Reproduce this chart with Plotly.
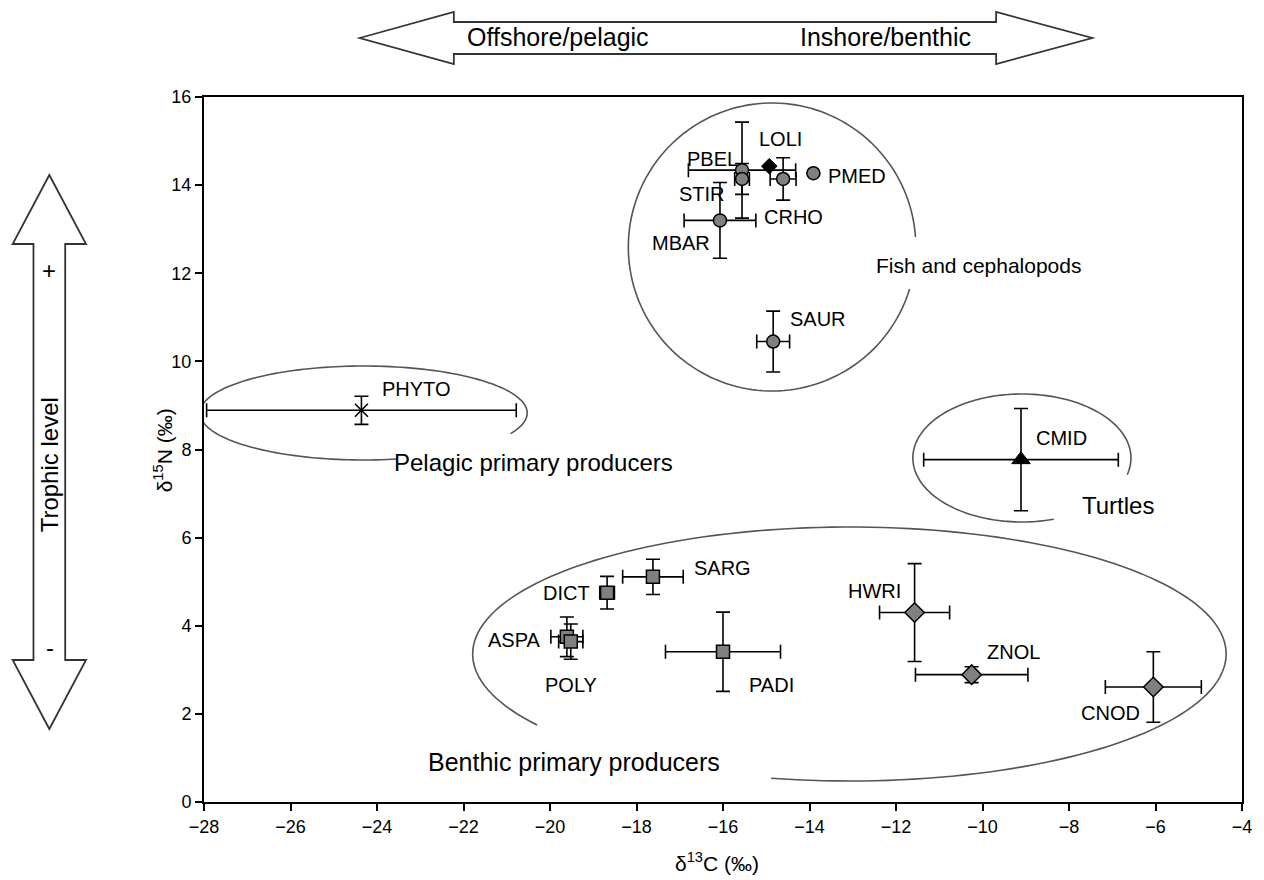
import numpy as np
import plotly.graph_objects as go

# ---------------- data (mean +/- SD, per mil) ----------------
fish_names = ["PBEL", "STIR", "CRHO", "PMED", "MBAR", "SAUR"]
fish_c13 = [-15.56, -15.56, -14.61, -13.91, -16.07, -14.84]
fish_n15 = [14.34, 14.14, 14.14, 14.27, 13.20, 10.45]
fish_c13_sd = [1.24, 0.17, 0.30, 0.0, 0.83, 0.38]
fish_n15_sd = [1.09, 0.35, 0.48, 0.0, 0.86, 0.69]

ceph_names = ["LOLI"]
ceph_c13 = [-14.93]
ceph_n15 = [14.43]

phyto_names = ["PHYTO"]
phyto_c13 = [-24.36]
phyto_n15 = [8.89]
phyto_c13_sd = [3.58]
phyto_n15_sd = [0.32]

algae_names = ["SARG", "DICT", "ASPA", "POLY", "PADI"]
algae_c13 = [-17.62, -18.68, -19.61, -19.52, -16.00]
algae_n15 = [5.11, 4.75, 3.75, 3.64, 3.41]
algae_c13_sd = [0.70, 0.17, 0.37, 0.28, 1.33]
algae_n15_sd = [0.40, 0.37, 0.45, 0.40, 0.90]

grass_names = ["HWRI", "ZNOL", "CNOD"]
grass_c13 = [-11.57, -10.25, -6.05]
grass_n15 = [4.30, 2.89, 2.61]
grass_c13_sd = [0.81, 1.30, 1.11]
grass_n15_sd = [1.11, 0.18, 0.80]

turtle_names = ["CMID"]
turtle_c13 = [-9.11]
turtle_n15 = [7.77]
turtle_c13_sd = [2.25]
turtle_n15_sd = [1.16]

x_ticks = list(range(-28, -3, 2))
y_ticks = list(range(0, 17, 2))

# ---------------- layout geometry (page pixels) ----------------
PAGE_OFF = 8            # default body margin of the html page
W, H = 1264 - PAGE_OFF, 880 - PAGE_OFF
L, R, T, B = 204, 1251, 97, 802      # plot area in page pixels
XMIN, XMAX, YMIN, YMAX = -28, -4, 0, 16

def px2data(xp, yp):
    return (XMIN + (xp - L) / (R - L) * (XMAX - XMIN),
            YMIN + (B - yp) / (B - T) * (YMAX - YMIN))

def px2paper(xp, yp):
    return ((xp - L) / (R - L), (B - yp) / (B - T))

FONT = "Liberation Sans, Arial, sans-serif"
GREY = "#808080"

fig = go.Figure()

def add_group(xs, ys, xsd, ysd, names, symbol, color, size, lw=1.5):
    eb = dict(type="data", symmetric=True, color="black", thickness=1.6, width=7, visible=xsd is not None)
    fig.add_trace(go.Scatter(
        x=xs, y=ys, mode="markers", text=names, hoverinfo="text+x+y",
        marker=dict(symbol=symbol, size=size, color=color,
                    line=dict(color="black", width=lw)),
        error_x=dict(eb, array=xsd if xsd is not None else [0] * len(xs)),
        error_y=dict(eb, array=ysd if ysd is not None else [0] * len(xs)),
        showlegend=False,
    ))

add_group(algae_c13, algae_n15, algae_c13_sd, algae_n15_sd, algae_names, "square", GREY, 13)
add_group(grass_c13, grass_n15, grass_c13_sd, grass_n15_sd, grass_names, "diamond", GREY, 15)
add_group(phyto_c13, phyto_n15, phyto_c13_sd, phyto_n15_sd, phyto_names, "x-thin", "black", 13, 1.6)
add_group(turtle_c13, turtle_n15, turtle_c13_sd, turtle_n15_sd, turtle_names, "triangle-up", "black", 16, 1)
add_group(fish_c13, fish_n15, fish_c13_sd, fish_n15_sd, fish_names, "circle", GREY, 13)
add_group(ceph_c13, ceph_n15, None, None, ceph_names, "diamond", "black", 12, 1)

# ---------------- point labels (pixel offsets) ----------------
label_offsets = {
    "PHYTO": (55, 21), "LOLI": (11, 27), "PBEL": (-30, 11), "STIR": (-40, -15),
    "CRHO": (10, -38), "PMED": (44, -3), "MBAR": (-39, -23), "SAUR": (45, 23),
    "SARG": (70, 9), "DICT": (-41, 0), "ASPA": (-52, -3), "POLY": (0, -43),
    "PADI": (48, -33), "HWRI": (-40, 22), "ZNOL": (42, 23), "CNOD": (-43, -26),
    "CMID": (41, 22),
}
annotations = []
for names, xs, ys in [(fish_names, fish_c13, fish_n15), (ceph_names, ceph_c13, ceph_n15),
                      (phyto_names, phyto_c13, phyto_n15), (algae_names, algae_c13, algae_n15),
                      (grass_names, grass_c13, grass_n15), (turtle_names, turtle_c13, turtle_n15)]:
    for n, xv, yv in zip(names, xs, ys):
        dx, dy = label_offsets[n]
        annotations.append(dict(x=xv, y=yv, xref="x", yref="y", text=n, showarrow=False,
                                xshift=dx, yshift=dy, xanchor="center", yanchor="middle",
                                font=dict(family=FONT, size=20, color="black")))

# group labels
for text, xp, yp, sz in [("Fish and cephalopods", 985, 265, 21),
                         ("Pelagic primary producers", 536, 462, 24),
                         ("Turtles", 1126, 505, 24),
                         ("Benthic primary producers", 577, 762, 25)]:
    gx, gy = px2data(xp, yp)
    annotations.append(dict(x=gx, y=gy, xref="x", yref="y", text=text, showarrow=False,
                            xanchor="center", yanchor="middle",
                            font=dict(family=FONT, size=sz, color="black")))

# axis titles
tx, ty = px2paper(721, 862)
annotations.append(dict(x=tx, y=ty, xref="paper", yref="paper", text="δ<sup>13</sup>C (‰)",
                        showarrow=False, xanchor="center", yanchor="middle",
                        font=dict(family=FONT, size=21, color="black")))
tx, ty = px2paper(163, 450)
annotations.append(dict(x=tx, y=ty, xref="paper", yref="paper", text="δ<sup>15</sup>N (‰)",
                        showarrow=False, textangle=-90, xanchor="center", yanchor="middle",
                        font=dict(family=FONT, size=21, color="black")))

# arrow texts
for text, xp, yp, anchor, ang, sz in [("Offshore/pelagic", 467, 37, "left", 0, 25),
                                      ("Inshore/benthic", 980, 37, "right", 0, 25),
                                      ("Trophic level", 48, 465, "center", -90, 24),
                                      ("+", 48, 270, "center", 0, 24),
                                      ("-", 49, 647, "center", 0, 24)]:
    ax_, ay_ = px2paper(xp, yp)
    annotations.append(dict(x=ax_, y=ay_, xref="paper", yref="paper", text=text, showarrow=False,
                            xanchor=anchor, yanchor="middle", textangle=ang,
                            font=dict(family=FONT, size=sz, color="black")))

# ---------------- group ellipses (open arcs) ----------------
def arc_path(cxp, cyp, rxp, ryp, a0, a1, n=160):
    t = np.radians(np.linspace(a0, a1, n))
    pts = [px2data(cxp + rxp * np.cos(a), cyp - ryp * np.sin(a)) for a in t]
    return "M " + " L ".join(f"{p[0]:.4f},{p[1]:.4f}" for p in pts)

shapes = []
for cxp, cyp, rxp, ryp, a0, a1 in [(777, 247, 145, 144, 4, 343),
                                   (365, 413, 165, 47, -26, 282),
                                   (1029, 458, 110, 64, -15, 287),
                                   (855, 654, 380, 127, -102, 214)]:
    shapes.append(dict(type="path", xref="x", yref="y", path=arc_path(cxp, cyp, rxp, ryp, a0, a1),
                       line=dict(color="#555555", width=1.6), layer="below"))

# ---------------- big double arrows ----------------
def poly_path(points):
    pp = [px2paper(*p) for p in points]
    return "M " + " L ".join(f"{a:.5f},{b:.5f}" for a, b in pp) + " Z"

top_arrow = [(361, 38), (456, 12), (456, 22), (1003, 22), (1003, 12), (1100, 38),
             (1003, 64), (1003, 54), (456, 54), (456, 64)]
left_arrow = [(48, 175), (85, 244), (64, 244), (64, 660), (85, 660), (48, 729),
              (11, 660), (32, 660), (32, 244), (11, 244)]
for pts in (top_arrow, left_arrow):
    shapes.append(dict(type="path", xref="paper", yref="paper", path=poly_path(pts),
                       line=dict(color="#333333", width=1.8), fillcolor="white"))

axis_common = dict(showgrid=False, zeroline=False, showline=True, linecolor="black", linewidth=2,
                   mirror=True, ticks="outside", ticklen=7, tickwidth=1.5, tickcolor="black",
                   tickfont=dict(family=FONT, size=18, color="black"))

fig.update_layout(
    width=W, height=H,
    margin=dict(l=L - PAGE_OFF, r=W - (R - PAGE_OFF), t=T - PAGE_OFF, b=H - (B - PAGE_OFF), pad=0),
    paper_bgcolor="white", plot_bgcolor="white",
    xaxis=dict(axis_common, range=[XMIN, XMAX], tickvals=x_ticks, ticktext=[f"−{abs(v)}" for v in x_ticks]),
    yaxis=dict(axis_common, range=[YMIN, YMAX], tickvals=y_ticks, ticktext=[str(v) for v in y_ticks]),
    annotations=annotations,
    shapes=shapes,
    showlegend=False,
)

fig.write_html("out.html")
